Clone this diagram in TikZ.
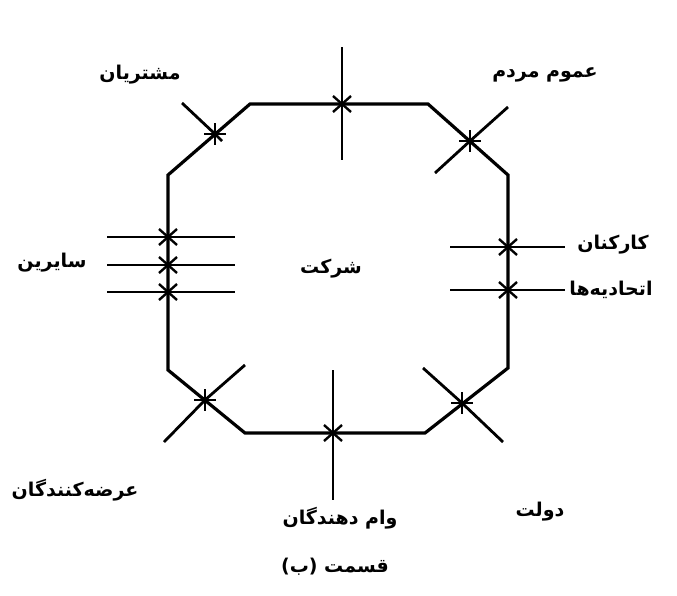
\documentclass[tikz,border=0pt]{standalone}
\usepackage{fontspec}
\newfontfamily\farsi[Script=Arabic]{DejaVu Sans}
\TeXXeTstate=1
\usetikzlibrary{positioning}

\begin{document}
\begin{tikzpicture}[
    x=1pt, y=-1pt,
    edge/.style={draw, line width=3.2pt, line join=miter},
    tie/.style={draw, line width=2.8pt},
    party/.style={font=\farsi\bfseries\fontsize{19}{22}\selectfont, inner sep=1pt},
    pics/spark/.style={code={\draw[line width=2.4pt] (-9,-8) -- (9,8) (-9,8) -- (9,-8);}},
    pics/tick/.style={code={\draw[line width=2.4pt] (-11,0) -- (11,0) (0,-11) -- (0,11);}}
]
    \useasboundingbox (0,0) rectangle (677,595);

    % Company boundary ===========================
    \coordinate (n1) at (250,104);
    \coordinate (n2) at (428,104);
    \coordinate (e1) at (508,175);
    \coordinate (e2) at (508,368);
    \coordinate (s1) at (425,433);
    \coordinate (s2) at (245,433);
    \coordinate (w1) at (168,370);
    \coordinate (w2) at (168,175);

    \draw[edge] (n1) -- (n2) -- (e1) -- (e2) -- (s1) -- (s2) -- (w1) -- (w2) -- cycle;

    \node[party] (company) at (331,269) {\beginR شرکت\endR};

    % Crossing points ===========================
    \coordinate (xTop) at (342,104);
    \coordinate (xTL) at (215,134);
    \coordinate (xTR) at (470,141);
    \coordinate (xR1) at (508,247);
    \coordinate (xR2) at (508,290);
    \coordinate (xBR) at (462,403);
    \coordinate (xBot) at (333,433);
    \coordinate (xBL) at (205,400);
    \coordinate (xL1) at (168,237);
    \coordinate (xL2) at (168,265);
    \coordinate (xL3) at (168,292);

    % Stakeholder lines ===========================
    \coordinate (tTop1) at (342,47);   \coordinate (tTop2) at (342,160);
    \coordinate (tTL1) at (182,103);   \coordinate (tTL2) at (222,141);
    \coordinate (tTR1) at (508,107);   \coordinate (tTR2) at (435,173);
    \coordinate (tR1a) at (450,247);   \coordinate (tR1b) at (565,247);
    \coordinate (tR2a) at (450,290);   \coordinate (tR2b) at (565,290);
    \coordinate (tBR1) at (423,368);   \coordinate (tBR2) at (503,442);
    \coordinate (tBot1) at (333,370);  \coordinate (tBot2) at (333,500);
    \coordinate (tBL1) at (245,365);   \coordinate (tBL2) at (164,442);
    \coordinate (tL1a) at (107,237);   \coordinate (tL1b) at (235,237);
    \coordinate (tL2a) at (107,265);   \coordinate (tL2b) at (235,265);
    \coordinate (tL3a) at (107,292);   \coordinate (tL3b) at (235,292);

    \draw[tie] (tTop1) -- (xTop) -- (tTop2);
    \draw[tie] (tTL1) -- (xTL) -- (tTL2);
    \draw[tie] (tTR1) -- (xTR) -- (tTR2);
    \draw[tie] (tR1a) -- (xR1) -- (tR1b);
    \draw[tie] (tR2a) -- (xR2) -- (tR2b);
    \draw[tie] (tBR1) -- (xBR) -- (tBR2);
    \draw[tie] (tBot1) -- (xBot) -- (tBot2);
    \draw[tie] (tBL1) -- (xBL) -- (tBL2);
    \draw[tie, line width=2.2pt] (tL1a) -- (xL1) -- (tL1b);
    \draw[tie, line width=2.2pt] (tL2a) -- (xL2) -- (tL2b);
    \draw[tie, line width=2.2pt] (tL3a) -- (xL3) -- (tL3b);

    % Marks on the crossings ===========================
    \foreach \p in {xTop, xR1, xR2, xBot, xL1, xL2, xL3}
        \pic at (\p) {spark};
    \foreach \p in {xTL, xTR, xBR, xBL}
        \pic at (\p) {tick};

    % Stakeholders ===========================
    \node[party] (customers) at (140,75) {\beginR مشتریان\endR};
    \node[party] (public) at (545,75) {\beginR عموم مردم\endR};
    \node[party] (others) at (52,263) {\beginR سایرین\endR};
    \node[party] (staff) at (613,245) {\beginR کارکنان\endR};
    \node[party] (unions) at (611,290) {\beginR اتحادیه‌ها\endR};
    \node[party] (suppliers) at (75,490) {\beginR عرضه‌کنندگان\endR};
    \node[party] (state) at (540,512) {\beginR دولت\endR};
    \node[party] (lenders) at (340,518) {\beginR وام دهندگان\endR};
    \node[party] (caption) at (335,567) {\beginR قسمت (ب)\endR};

\end{tikzpicture}
\end{document}
